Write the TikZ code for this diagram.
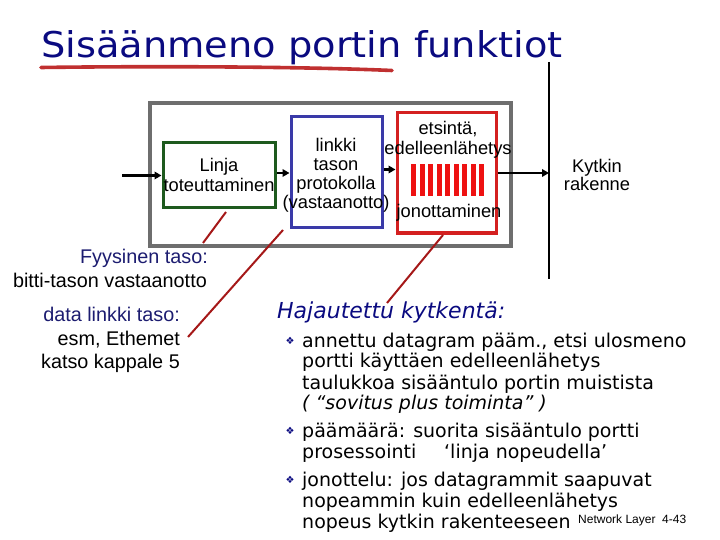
\documentclass[tikz,border=0pt]{standalone}
\usepackage{fontspec}
\setmainfont{Liberation Sans}
\newfontfamily\dvs{DejaVu Sans}[ItalicFont={DejaVu Sans Oblique}]
\usetikzlibrary{arrows.meta}
\definecolor{ttlblue}{HTML}{0A0A80}
\definecolor{lblnavy}{HTML}{1C1C70}
\definecolor{boxgray}{HTML}{6E6E6E}
\definecolor{boxgreen}{HTML}{1E5A1E}
\definecolor{boxblue}{HTML}{3A3AA8}
\definecolor{boxred}{HTML}{D42020}
\definecolor{barred}{HTML}{EE1111}
\definecolor{slantred}{HTML}{A51818}
\definecolor{ulred}{HTML}{C03030}
\tikzset{
  lbl/.style={font=\fontsize{18.3}{20}\selectfont, inner sep=0pt, anchor=base},
  ltxt/.style={font=\fontsize{19.8}{21}\selectfont, inner sep=0pt, anchor=base east},
  arr/.style={line width=2.6pt, -{Triangle[length=7pt,width=7.5pt]}},
  slant/.style={draw=slantred, line width=2pt},
  box/.style={draw, line width=3pt, inner sep=0pt},
  bul/.style={font=\dvs\fontsize{19}{21}\selectfont, inner sep=0pt, anchor=base west},
  bmark/.style={font=\dvs\fontsize{10}{10}\selectfont, text=ttlblue, inner sep=0pt},
}
\begin{document}
\begin{tikzpicture}[x=1pt,y=-1pt]
\useasboundingbox (0,0) rectangle (720,540);

% title
\node[anchor=base west, inner sep=0pt, text=ttlblue, font=\dvs\fontsize{35.5}{38}\selectfont] (title) at (41,58) {\scalebox{1.08}[1]{Sisäänmeno portin funktiot}};
\draw[ulred, line width=3.6pt, line cap=round] (41,67.5) .. controls (150,66) and (300,66.5) .. (392,70.5);

% vertical line
\coordinate (vtop) at (549,62);
\coordinate (vbot) at (549,279);
\draw[line width=1.1pt] (vtop) -- (vbot);

% boxes
\node[box, draw=boxgray, line width=3.4pt, minimum width=361pt, minimum height=143pt] (port) at (330.5,174.5) {};
\node[box, draw=boxgreen, minimum width=112pt, minimum height=65pt] (green) at (219,175.5) {};
\node[box, draw=boxblue, minimum width=91pt, minimum height=111pt] (blue) at (336.5,172.5) {};
\node[box, draw=boxred, minimum width=99pt, minimum height=120pt] (red) at (446.5,173) {};

% bars
\foreach \i in {0,...,8} {
  \fill[barred] ({411+\i*8.5},164) rectangle ({416+\i*8.5},196);
}

% box texts
\node[lbl] (l1) at (219,172) {Linja};
\node[lbl] (l2) at (219,192) {toteuttaminen};
\node[lbl] (b1) at (336,152) {linkki};
\node[lbl] (b2) at (336,171) {tason};
\node[lbl] (b3) at (336,190) {protokolla};
\node[lbl] (b4) at (336,209) {(vastaanotto)};
\node[lbl] (r1) at (448,135) {etsintä,};
\node[lbl] (r2) at (448,155) {edelleenlähetys};
\node[lbl] (r3) at (449,218) {jonottaminen};
\node[lbl] (k1) at (597,173) {Kytkin};
\node[lbl] (k2) at (597,191) {rakenne};

% arrows
\coordinate (inp) at (122,175.5);
\coordinate (outp) at (549,173);
\draw[arr] (inp) -- (green.west);
\draw[arr] ([yshift=2.5pt]green.east) -- ([yshift=2.5pt]green.east -| blue.west);
\draw[arr] ([yshift=3pt]blue.east) -- ([yshift=3pt]blue.east -| red.west);
\draw[arr] (red.east) -- (outp);

% left texts
\node[ltxt, text=lblnavy] (f1) at (208,263) {Fyysinen taso:};
\node[ltxt] (f2) at (207,287) {bitti-tason vastaanotto};
\node[ltxt, text=lblnavy] (d1) at (180,321) {data linkki taso:};
\node[ltxt] (d2) at (180,345) {esm, Ethemet};
\node[ltxt] (d3) at (180,368) {katso kappale 5};

% slanted red lines
\coordinate (s1a) at (226,212);
\coordinate (s1b) at (203,243);
\coordinate (s2a) at (283,230);
\coordinate (s2b) at (188,337);
\coordinate (s3a) at (443,235);
\coordinate (s3b) at (387,303);
\draw[slant] (s1a) -- (s1b);
\draw[slant] (s2a) -- (s2b);
\draw[slant] (s3a) -- (s3b);

% right text block
\node[anchor=base west, inner sep=0pt, text=ttlblue, font=\dvs\itshape\fontsize{22}{24}\selectfont] (haj) at (277,318) {Hajautettu kytkentä:};

\node[bmark] (m1) at (290,341) {❖};
\node[bmark] (m2) at (290,431) {❖};
\node[bmark] (m3) at (290,480) {❖};

\node[bul] (t1) at (302,347) {annettu datagram pääm., etsi ulosmeno};
\node[bul] (t2) at (302,367) {portti käyttäen edelleenlähetys};
\node[bul] (t3) at (302,389) {taulukkoa sisääntulo portin muistista};
\node[bul, font=\dvs\itshape\fontsize{19}{21}\selectfont] (t4) at (302,409) {(\ “sovitus plus toiminta”\ )};
\node[bul] (t5) at (302,437) {päämäärä: suorita sisääntulo portti};
\node[bul] (t6) at (302,458) {prosessointi};
\node[bul] (t6b) at (444,458) {‘linja nopeudella’};
\node[bul] (t7) at (302,486) {jonottelu: jos datagrammit saapuvat};
\node[bul] (t8) at (302,507) {nopeammin kuin edelleenlähetys};
\node[bul] (t9) at (302,528) {nopeus kytkin rakenteeseen};

\node[anchor=base west, inner sep=0pt, font=\fontsize{12}{12}\selectfont] (foot) at (578,523) {Network Layer\ \ 4-43};
\end{tikzpicture}
\end{document}
